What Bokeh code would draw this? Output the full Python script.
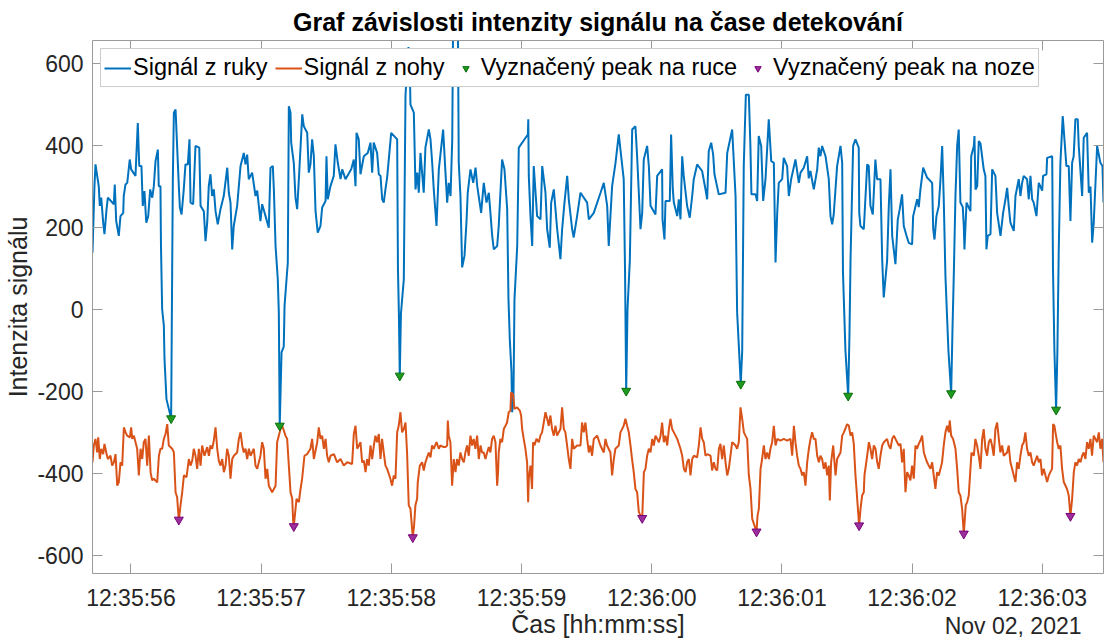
from datetime import datetime, timezone
from bokeh.plotting import figure
from bokeh.models import (Range1d, FixedTicker, DatetimeTickFormatter, DatetimeAxis,
                          LinearAxis)
from bokeh.embed import file_html
from bokeh.resources import INLINE

# ---------------- data (time in ms after 12:35:55.000, 2 Nov 2021) ----------------
ruka_ms = [705, 720, 728, 741, 753, 761, 772, 787, 797, 813,
           823, 869, 876, 887, 907, 920, 941, 945, 958, 972,
           991, 1002, 1035, 1053, 1064, 1081, 1091, 1104, 1118, 1133,
           1148, 1164, 1176, 1189, 1207, 1214, 1227, 1231, 1240, 1253,
           1258, 1273, 1309, 1317, 1322, 1330, 1343, 1356, 1368, 1376,
           1389, 1406, 1419, 1437, 1450, 1458, 1478, 1496, 1525, 1535,
           1560, 1573, 1586, 1598, 1611, 1624, 1637, 1650, 1667, 1688,
           1713, 1740, 1752, 1765, 1778, 1790, 1816, 1842, 1867, 1880,
           1893, 1905, 1931, 1957, 1970, 1995, 2008, 2034, 2059, 2072,
           2090, 2098, 2111, 2128, 2136, 2143, 2157, 2174, 2180, 2205,
           2213, 2226, 2231, 2251, 2264, 2277, 2290, 2316, 2328, 2354,
           2366, 2379, 2392, 2405, 2418, 2435, 2456, 2469, 2495, 2502,
           2512, 2533, 2558, 2571, 2589, 2610, 2623, 2648, 2692, 2712,
           2725, 2733, 2750, 2763, 2789, 2819, 2840, 2853, 2865, 2891,
           2904, 2917, 2930, 2942, 2955, 2968, 2999, 3045, 3051, 3058,
           3065, 3074, 3096, 3109, 3122, 3132, 3142, 3147, 3173, 3186,
           3199, 3211, 3224, 3249, 3262, 3288, 3301, 3314, 3326, 3347,
           3365, 3398, 3416, 3429, 3441, 3455, 3468, 3475, 3511, 3518,
           3531, 3544, 3562, 3577, 3587, 3608, 3629, 3647, 3660, 3690,
           3710, 3731, 3749, 3775, 3787, 3813, 3825, 3851, 3869, 3890,
           3900, 3910, 3923, 3928, 3938, 3946, 3967, 3979, 4049, 4052,
           4056, 4069, 4082, 4094, 4120, 4146, 4159, 4184, 4197, 4217,
           4228, 4248, 4274, 4299, 4312, 4330, 4351, 4363, 4389, 4401,
           4427, 4453, 4504, 4517, 4555, 4607, 4632, 4658, 4670, 4696,
           4722, 4747, 4785, 4795, 4804, 4814, 4832, 4850, 4875, 4888,
           4914, 4927, 4939, 4965, 4978, 4991, 5029, 5042, 5080, 5083,
           5098, 5106, 5139, 5149, 5162, 5170, 5196, 5208, 5221, 5234,
           5246, 5272, 5292, 5311, 5323, 5349, 5387, 5413, 5426, 5438,
           5457, 5472, 5482, 5515, 5567, 5580, 5618, 5644, 5656, 5684,
           5695, 5707, 5723, 5746, 5758, 5766, 5797, 5810, 5822, 5841,
           5856, 5874, 5899, 5918, 5938, 5951, 5964, 5976, 6002, 6014,
           6040, 6053, 6071, 6104, 6130, 6143, 6168, 6194, 6206, 6219,
           6245, 6271, 6283, 6296, 6309, 6335, 6360, 6373, 6386, 6398,
           6424, 6450, 6463, 6469, 6488, 6509, 6519, 6527, 6547, 6565,
           6590, 6594, 6603, 6629, 6655, 6667, 6680, 6698, 6718, 6731,
           6757, 6770, 6782, 6808, 6821, 6834, 6847, 6872, 6890, 6905,
           6923, 6936, 6957, 6974, 7000, 7008, 7039, 7051, 7064, 7085,
           7115, 7154, 7162, 7172, 7187, 7205, 7218, 7231, 7243, 7256,
           7279, 7300, 7310, 7320, 7333, 7346, 7358, 7371, 7389, 7397,
           7402, 7418, 7448, 7454, 7474, 7479, 7487, 7500, 7512, 7525,
           7550, 7563, 7571, 7581, 7602, 7615, 7640, 7653, 7679, 7699,
           7717, 7730, 7742, 7755, 7781, 7794, 7819, 7832, 7845, 7857,
           7883, 7896, 7909, 7922, 7934, 7955, 7973, 7999, 8006, 8032,
           8037, 8076, 8082, 8093, 8106, 8116, 8126, 8139, 8157, 8170,
           8185, 8203, 8216, 8229, 8241, 8254, 8272, 8280, 8306, 8318,
           8344, 8357, 8370, 8383, 8395, 8421, 8446, 8462, 8470]
ruka_val = [139, 301, 354, 326, 301, 253, 273, 212, 184, 245,
            273, 257, 305, 216, 180, 228, 236, 277, 305, 309,
            366, 342, 326, 455, 350, 350, 253, 289, 212, 228,
            293, 273, 301, 362, 390, 301, 301, 155, 1, -39,
            -120, -218, -265, 100, 318, 480, 488, 390, 301, 249,
            232, 293, 354, 354, 415, 261, 257, 399, 395, 253,
            240, 167, 212, 301, 330, 277, 293, 240, 208, 245,
            277, 346, 285, 261, 147, 204, 253, 350, 382, 354,
            378, 318, 334, 277, 290, 216, 257, 228, 200, 346,
            350, 293, 155, 74, -6, -283, -104, -90, 9, 115,
            496, 480, 407, 358, 273, 245, 318, 476, 447, 431,
            334, 354, 415, 374, 240, 188, 204, 249, 265, 374,
            269, 301, 326, 403, 358, 318, 342, 318, 342, 366,
            301, 431, 415, 330, 374, 382, 407, 334, 407, 382,
            330, 326, 269, 261, 293, 322, 431, 415, 100, -6,
            -161, -10, 74, 520, 600, 640, 600, 500, 480, 293,
            334, 285, 382, 285, 395, 439, 415, 358, 293, 204,
            342, 439, 334, 261, 309, 277, 415, 720, 720, 358,
            277, 103, 131, 212, 285, 342, 309, 346, 301, 236,
            309, 261, 285, 180, 147, 155, 204, 366, 342, 245,
            25, -72, -152, -250, -218, 25, 155, 395, 427, 464,
            326, 228, 155, 350, 228, 220, 350, 285, 196, 151,
            261, 293, 196, 123, 196, 261, 326, 269, 196, 176,
            228, 285, 261, 220, 236, 285, 309, 253, 155, 301,
            358, 427, 318, 100, -198, 0, 120, 439, 447, 374,
            196, 236, 366, 399, 350, 253, 232, 326, 342, 220,
            171, 265, 265, 427, 293, 261, 228, 269, 220, 374,
            326, 253, 224, 277, 318, 354, 338, 293, 269, 386,
            407, 378, 330, 281, 285, 382, 439, 277, -6, -181,
            -100, 350, 524, 524, 399, 281, 281, 265, 423, 399,
            265, 318, 464, 362, 358, 115, 236, 309, 318, 370,
            350, 277, 318, 366, 309, 334, 346, 374, 320, 338,
            293, 342, 395, 374, 399, 374, 318, 228, 208, 232,
            350, 399, 358, 91, -100, -210, -60, 120, 399, 415,
            395, 236, 204, 196, 354, 350, 253, 232, 366, 318,
            318, 123, 30, 119, 253, 342, 180, 111, 220, 245,
            281, 204, 180, 163, 159, 228, 269, 250, 293, 346,
            322, 309, 196, 171, 228, 253, 318, 399, 269, 82,
            -100, -204, -50, 82, 277, 399, 439, 261, 250, 204,
            147, 261, 240, 374, 399, 423, 293, 301, 411, 405,
            342, 326, 147, 180, 184, 342, 326, 236, 180, 236,
            269, 297, 253, 212, 192, 277, 318, 277, 309, 326,
            318, 269, 326, 269, 261, 228, 309, 290, 326, 330,
            370, 374, 100, -100, -244, -100, 139, 358, 472, 415,
            350, 350, 216, 358, 374, 464, 464, 399, 277, 419,
            431, 285, 300, 163, 212, 399, 358, 350, 261]

noha_ms = [705, 715, 728, 741, 749, 761, 772, 787, 797, 813,
           823, 843, 856, 869, 882, 895, 907, 920, 933, 946,
           959, 971, 992, 1002, 1010, 1023, 1048, 1061, 1074, 1087,
           1099, 1112, 1125, 1138, 1151, 1163, 1176, 1202, 1215, 1227,
           1240, 1253, 1266, 1279, 1291, 1317, 1330, 1343, 1355, 1368,
           1381, 1394, 1407, 1427, 1445, 1458, 1471, 1483, 1496, 1509,
           1522, 1535, 1547, 1565, 1586, 1599, 1611, 1624, 1637, 1650,
           1663, 1675, 1688, 1701, 1714, 1727, 1739, 1752, 1765, 1778,
           1791, 1816, 1829, 1842, 1855, 1867, 1880, 1893, 1906, 1919,
           1944, 1957, 1970, 1995, 2008, 2021, 2034, 2047, 2059, 2085,
           2111, 2123, 2136, 2149, 2162, 2175, 2187, 2200, 2213, 2226,
           2239, 2246, 2251, 2272, 2290, 2303, 2315, 2333, 2354, 2379,
           2392, 2405, 2431, 2443, 2456, 2469, 2482, 2495, 2507, 2520,
           2533, 2559, 2584, 2610, 2635, 2661, 2699, 2712, 2725, 2738,
           2751,
           2763, 2776, 2789, 2802, 2814, 2827, 2840, 2853, 2866, 2878,
           2891, 2904, 2917, 2929, 2942, 2955, 2968, 2993, 3006, 3019,
           3032, 3045, 3057, 3070, 3083, 3096, 3109, 3121, 3134, 3147,
           3165, 3175, 3185, 3198, 3203, 3219, 3237, 3249, 3262, 3275,
           3288, 3301, 3313, 3326, 3347, 3365, 3377, 3403, 3416, 3429,
           3434, 3441, 3454, 3467, 3480, 3493, 3505, 3518, 3531, 3544,
           3557, 3569, 3582, 3595, 3608, 3621, 3633, 3646, 3659, 3672,
           3685, 3697, 3710, 3723, 3736, 3749, 3761, 3774, 3787, 3800,
           3813, 3820, 3825, 3838, 3851, 3864, 3877, 3889, 3902, 3915,
           3920, 3935, 3946, 3966, 3987, 3997, 4005, 4017, 4030, 4043,
           4051, 4056, 4069, 4081, 4089, 4099, 4115, 4133, 4145, 4158,
           4171, 4184, 4197, 4209, 4222, 4235, 4248, 4261, 4273, 4299,
           4312, 4325, 4337, 4350, 4363, 4376, 4389, 4401, 4427, 4453,
           4465, 4478, 4491, 4504, 4517, 4529, 4542, 4555, 4581, 4606,
           4632, 4645, 4657, 4683, 4696, 4709, 4721, 4747, 4760, 4785,
           4798, 4811, 4824, 4837, 4849, 4862, 4875, 4888, 4901, 4914,
           4927,
           4940, 4952, 4965, 4978, 4991, 5004, 5016, 5029, 5042, 5055,
           5068, 5080, 5093, 5106, 5119, 5132, 5144, 5157, 5170, 5196,
           5221, 5234, 5247, 5260, 5272, 5285, 5298, 5311, 5324, 5349,
           5362, 5375, 5388, 5400, 5413, 5426, 5452, 5464, 5477, 5490,
           5503, 5516, 5528, 5541, 5554, 5567, 5580, 5592, 5605, 5618,
           5631, 5644, 5656, 5669, 5682, 5695, 5708, 5720, 5733, 5746,
           5759, 5772, 5805, 5813, 5823, 5836, 5848, 5861, 5874, 5887,
           5900, 5912, 5925, 5938, 5951, 5964, 5989, 6015, 6040, 6066,
           6079, 6092, 6104, 6117, 6130, 6143, 6156, 6168, 6181, 6194,
           6207, 6220, 6232, 6245, 6258, 6271, 6284, 6296, 6309, 6322,
           6335, 6348, 6360, 6368, 6378, 6394, 6404, 6412, 6424, 6437,
           6450, 6463, 6476, 6501, 6514, 6527, 6540, 6552, 6565, 6573,
           6580, 6593, 6604, 6616, 6629, 6634, 6655, 6668, 6680, 6693,
           6706, 6719, 6732, 6744, 6757, 6770, 6783, 6808, 6821, 6834,
           6847, 6860, 6872, 6885, 6898, 6911,
           6923, 6936, 6949, 6962, 6974, 6987, 7000, 7013, 7026, 7038,
           7051, 7064, 7077, 7090, 7102, 7115, 7128, 7141, 7154, 7166,
           7179, 7192, 7205, 7218, 7230, 7243, 7256, 7269, 7282, 7289,
           7300, 7315, 7333, 7346, 7358, 7371, 7384, 7397, 7405, 7412,
           7423, 7435, 7448, 7456, 7474, 7486, 7499, 7512, 7525, 7538,
           7550, 7563, 7576, 7589, 7602, 7614, 7627, 7640, 7653, 7666,
           7678, 7691, 7704, 7730, 7742, 7755, 7768, 7781, 7794, 7806,
           7819, 7832, 7845, 7858, 7870, 7883, 7896, 7909, 7922, 7934,
           7960, 7973, 7986, 7998, 8011, 8037, 8050, 8062, 8075, 8083,
           8093, 8101, 8114, 8126, 8139, 8152, 8165, 8190, 8203, 8216,
           8229, 8242, 8254, 8267, 8280, 8293, 8306, 8318, 8331, 8344,
           8357, 8370, 8382, 8395, 8408, 8421, 8434, 8446, 8459, 8470]
noha_val = [-372, -331, -315, -348, -311, -364, -339, -352, -327, -352,
            -364, -356, -380, -372, -352, -429, -421, -372, -380, -287,
            -299, -307, -311, -287, -315, -307, -339, -404, -339, -364,
            -323, -315, -380, -307, -396, -416, -412, -421, -356, -339,
            -339, -315, -303, -279, -331, -339, -348, -445, -457, -514,
            -477, -445, -404, -408, -364, -380, -368, -339, -356, -388,
            -339, -380, -331, -356, -335, -356, -331, -339, -319, -287,
            -339, -368, -380, -364, -396, -380, -339, -356, -412, -364,
            -356, -348, -315, -299, -331, -348, -339, -364, -339, -356,
            -339, -380, -388, -356, -323, -339, -412, -388, -429, -445,
            -429, -323, -307, -291, -283, -295, -307, -315, -380, -445,
            -461, -514, -528, -461, -469, -437, -412, -356, -352, -339,
            -315, -364, -323, -287, -315, -307, -339, -315, -356, -372,
            -356, -352, -372, -364, -380, -372, -376, -303, -283, -339,
            -331,
            -323, -372, -368, -396, -364, -380, -331, -364, -331, -307,
            -323, -303, -364, -315, -348, -380, -388, -412, -429, -404,
            -412, -299, -283, -250, -299, -291, -275, -348, -477, -485,
            -555, -526, -477, -461, -421, -380, -372, -392, -372, -360,
            -348, -360, -331, -339, -323, -339, -331, -335, -335, -331,
            -270, -307, -323, -429, -364, -396, -364, -380, -348, -364,
            -372, -348, -331, -356, -307, -331, -315, -339, -307, -364,
            -331, -348, -348, -364, -348, -335, -348, -315, -307, -323,
            -429, -396, -348, -315, -323, -291, -283, -275, -250, -246,
            -202, -206, -242, -238, -246, -258, -291, -315, -339, -372,
            -469, -412, -380, -437, -323, -331, -315, -323, -307, -299,
            -275, -250, -266, -283, -258, -291, -307, -283, -307, -291,
            -238, -291, -299, -331, -364, -388, -315, -339, -331, -331,
            -275, -299, -275, -315, -348, -331, -356, -315, -307, -331,
            -348, -315, -331, -348, -404, -364, -339, -331, -299, -283,
            -266, -283, -299, -331, -364, -396, -437, -445, -493, -502,
            -508,
            -396, -388, -356, -339, -348, -315, -331, -307, -315, -323,
            -307, -275, -323, -307, -331, -291, -266, -291, -299, -315,
            -339, -356, -388, -396, -372, -364, -404, -364, -356, -360,
            -331, -287, -315, -323, -356, -352, -356, -392, -372, -388,
            -392, -339, -327, -364, -331, -372, -404, -388, -356, -323,
            -327, -331, -339, -323, -238, -266, -299, -307, -315, -404,
            -437, -510, -541, -502, -485, -388, -364, -331, -364, -348,
            -364, -339, -323, -283, -331, -315, -319, -315, -319, -315,
            -356, -283, -323, -356, -380, -388, -404, -396, -429, -372,
            -339, -315, -299, -315, -315, -356, -372, -356, -364, -388,
            -372, -404, -380, -465, -372, -331, -372, -404, -364, -356,
            -348, -307, -299, -279, -283, -307, -299, -327, -404, -437,
            -469, -526, -485, -453, -445, -404, -356, -323, -339, -364,
            -331, -339, -372, -388, -356, -331, -323, -315, -331, -339,
            -315, -307, -315, -323, -331, -327,
            -372, -339, -445, -396, -404, -416, -380, -412, -331, -339,
            -327, -319, -307, -348, -360, -372, -380, -388, -372, -404,
            -437, -396, -404, -388, -372, -331, -299, -283, -299, -270,
            -307, -315, -339, -388, -445, -453, -485, -546, -510, -477,
            -469, -453, -388, -348, -356, -315, -331, -356, -388, -315,
            -291, -339, -356, -323, -315, -331, -356, -291, -275, -315,
            -348, -331, -356, -348, -331, -372, -388, -404, -420, -372,
            -388, -356, -331, -323, -299, -339, -356, -348, -372, -380,
            -356, -372, -364, -404, -388, -420, -404, -396, -388, -279,
            -283, -299, -323, -339, -331, -388, -420, -437, -453, -503,
            -461, -396, -372, -380, -364, -372, -356, -348, -364, -323,
            -339, -315, -356, -307, -315, -323, -299, -339, -315, -372]

peak_ruka_ms = [1309, 2143, 3065, 4804, 5684, 6509, 7300, 8106]
peak_ruka_val = [-265, -283, -161, -198, -181, -210, -204, -244]
peak_noha_ms = [1368, 2251, 3165, 4927, 5805, 6593, 7397, 8216]
peak_noha_val = [-512, -528, -555, -508, -541, -526, -546, -503]

x_tick_seconds = [1, 2, 3, 4, 5, 6, 7, 8]          # 12:35:56 ... 12:36:03
y_ticks = [-600, -400, -200, 0, 200, 400, 600]

title_text = "Graf závislosti intenzity signálu na čase detekování"
x_label = "Čas [hh:mm:ss]"
y_label = "Intenzita signálu"
date_text = "Nov 02, 2021"
names = ["Signál z ruky", "Signál z nohy", "Vyznačený peak na ruce", "Vyznačený peak na noze"]

# ---------------- build ----------------
T0 = int(datetime(2021, 11, 2, 12, 35, 55, tzinfo=timezone.utc).timestamp()) * 1000
X_START, X_END = 705, 8470          # axis limits (ms after T0)
Y_MIN, Y_MAX = -643, 656            # value axis limits
DATE_AT = 7776                      # where the date context is centred (ms after T0)

FONT = "Liberation Sans"
AX = "#9a9a9a"
TXT = "#262626"


def to_t(ms):
    return [T0 + m for m in ms]


p = figure(width=1104, height=641, output_backend="svg", toolbar_location=None,
           x_axis_type="datetime",
           x_range=Range1d(T0 + X_START, T0 + X_END), y_range=Range1d(Y_MIN, Y_MAX),
           min_border_left=92, min_border_right=1, min_border_top=0, min_border_bottom=0,
           background_fill_color="white", border_fill_color="white")
p.outline_line_color = None
p.xgrid.visible = False
p.ygrid.visible = False

p.line(to_t(ruka_ms), ruka_val, line_color="#0072BD", line_width=2, legend_label=names[0])
p.line(to_t(noha_ms), noha_val, line_color="#D95319", line_width=2, legend_label=names[1])
p.scatter(to_t(peak_ruka_ms), peak_ruka_val, marker="inverted_triangle", size=9,
          fill_color="#1f9a1f", line_color="#0a6e0a", line_width=1, legend_label=names[2])
p.scatter(to_t(peak_noha_ms), peak_noha_val, marker="inverted_triangle", size=9,
          fill_color="#9b2f9b", line_color="#7a007a", line_width=1, legend_label=names[3])

# title
p.title.text = title_text
p.title.align = "center"
p.title.text_font = FONT
p.title.text_font_size = "25px"
p.title.text_font_style = "bold"
p.title.text_color = "#000000"
p.title.standoff = 10
p.title.offset = 0

xticker = FixedTicker(ticks=[T0 + 1000 * s for s in x_tick_seconds])
yticker = FixedTicker(ticks=y_ticks)
fmt = "%H:%M:%S"
dtf = DatetimeTickFormatter(microseconds=fmt, milliseconds=fmt, seconds=fmt, minsec=fmt,
                            minutes=fmt, hourmin=fmt, hours=fmt, days=fmt, months=fmt,
                            years=fmt, strip_leading_zeros=False)


def style_axis(ax):
    ax.axis_line_color = AX
    ax.axis_line_width = 1
    ax.major_tick_line_color = AX
    ax.major_tick_in = 10
    ax.major_tick_out = 0
    ax.minor_tick_line_color = None
    ax.major_label_text_font = FONT
    ax.major_label_text_color = TXT


def style_label(ax, text, standoff):
    ax.axis_label = text
    ax.axis_label_text_font = FONT
    ax.axis_label_text_font_size = "25px"
    ax.axis_label_text_font_style = "normal"
    ax.axis_label_text_color = TXT
    ax.axis_label_standoff = standoff


xa = p.xaxis[0]
xa.ticker = xticker
xa.formatter = dtf
style_axis(xa)
xa.major_label_text_font_size = "23px"
xa.major_label_standoff = 11
style_label(xa, x_label, -4)

ya = p.yaxis[0]
ya.ticker = yticker
ya.major_label_overrides = {v: str(v) for v in y_ticks}
style_axis(ya)
ya.major_label_text_font_size = "23px"
ya.major_label_standoff = 9
style_label(ya, y_label, 2)

# box ticks on top and right (no labels)
top = DatetimeAxis(ticker=xticker, formatter=dtf)
style_axis(top)
top.major_label_text_font_size = "1px"
top.major_label_text_color = None
top.major_label_standoff = 0
p.add_layout(top, "above")

right = LinearAxis(ticker=yticker)
style_axis(right)
right.major_label_overrides = {v: "" for v in y_ticks}
right.major_label_standoff = 0
p.add_layout(right, "right")

# date context, on the line of the x axis title, right side
t_date = T0 + DATE_AT
dax = DatetimeAxis(ticker=FixedTicker(ticks=[t_date]), formatter=dtf)
dax.major_label_overrides = {t_date: date_text}
dax.axis_line_color = None
dax.major_tick_line_color = None
dax.minor_tick_line_color = None
dax.major_tick_in = 0
dax.major_tick_out = 0
dax.major_label_text_font = FONT
dax.major_label_text_font_size = "23px"
dax.major_label_text_color = TXT
dax.major_label_standoff = -28
p.add_layout(dax, "below")

# legend
lg = p.legend[0]
lg.orientation = "horizontal"
lg.location = "top_left"
lg.margin = 8
lg.padding = 3
lg.spacing = 7
lg.label_standoff = 2
lg.glyph_width = 27
lg.glyph_height = 16
lg.label_height = 31
lg.label_text_font = FONT
lg.label_text_font_size = "23.5px"
lg.label_text_color = "#000000"
lg.border_line_color = AX
lg.border_line_width = 1
lg.background_fill_color = "white"
lg.background_fill_alpha = 1.0

open("out.html", "w").write(file_html(p, INLINE))
